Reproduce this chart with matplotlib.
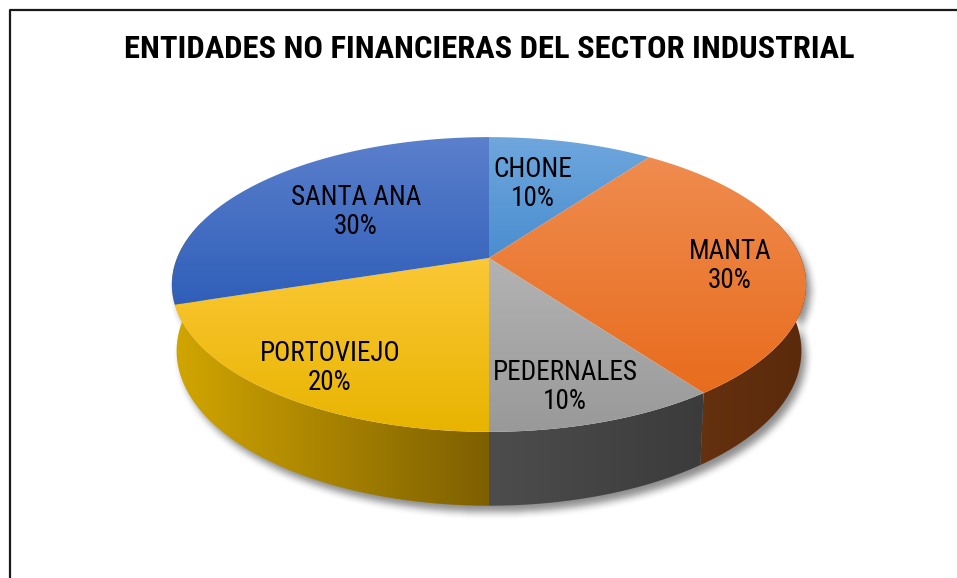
import numpy as np
import matplotlib.pyplot as plt
from matplotlib.colors import LinearSegmentedColormap
from matplotlib.patches import Polygon
from matplotlib.path import Path

# data
categories = ['CHONE', 'MANTA', 'PEDERNALES', 'PORTOVIEJO', 'SANTA ANA']
shares = [10, 30, 10, 20, 30]
pct_labels = ['10%', '30%', '10%', '20%', '30%']
chart_title = 'ENTIDADES NO FINANCIERAS DEL SECTOR INDUSTRIAL'

# look of each slice: top face (light, dark), side wall (left, right)
top_colors = [('#6fa7dd', '#4a8dd0'), ('#ef8c4f', '#e86c1d'),
              ('#b3b3b3', '#999999'), ('#fbc837', '#e8b400'),
              ('#5b80cc', '#2f5eb9')]
side_colors = [('#3f6fa0', '#2e5a88'), ('#65310f', '#5a2a0b'),
               ('#4d4d4d', '#3b3b3b'), ('#d2a600', '#7d5f00'),
               ('#2c4f92', '#223f78')]
label_xy = [(533, 184), (730, 266), (565, 387), (330, 368), (356, 212)]

W, H = 957, 578
FONT = 'Roboto Condensed'
# camera for the 3d look of the top face
cx, cy = 489, 258
F, D = 1544.0, 4.949
phi = np.radians(27.2)
# thickness of the disc (pixels at the sides) and its growth toward the front
wall_px, wall_k, wall_shrink = 65.0, 0.12, 0.985


def proj(x, y):
    depth = D + y * np.cos(phi)
    sx = cx + F * x / depth
    sy = cy - F * y * np.sin(phi) / depth
    return np.column_stack([sx, sy])


def arc(t1, t2, n=200):
    t = np.radians(np.linspace(t1, t2, n))
    return proj(np.cos(t), np.sin(t))


def arc_bottom(t1, t2, n=200):
    t = np.radians(np.linspace(t1, t2, n))
    p = proj(np.cos(t), np.sin(t))
    p[:, 0] = cx + (p[:, 0] - cx) * wall_shrink
    p[:, 1] += wall_px / (1 + wall_k * np.sin(t))
    return p


def gradient_fill(ax, poly, c1, c2, vertical=True, zorder=2):
    patch = Polygon(poly, closed=True, fill=False, edgecolor='none')
    ax.add_patch(patch)
    x0, y0 = poly.min(axis=0)
    x1, y1 = poly.max(axis=0)
    grad = np.linspace(0, 1, 256)
    grad = grad[:, None] if vertical else grad[None, :]
    cmap = LinearSegmentedColormap.from_list('g', [c1, c2])
    im = ax.imshow(grad, cmap=cmap, extent=(x0 - 1, x1 + 1, y1 + 1, y0 - 1),
                   origin='upper', aspect='auto', interpolation='bilinear',
                   zorder=zorder)
    im.set_clip_path(patch)


fig = plt.figure(figsize=(W / 100, H / 100), dpi=100)
ax = fig.add_axes([0, 0, 1, 1])
ax.set_xlim(0, W)
ax.set_ylim(H, 0)
ax.axis('off')

# slice angles, excel style: start at 12 o'clock, clockwise
fr = np.array(shares) / sum(shares)
ends = 90 - 360 * np.cumsum(fr)
starts = np.concatenate([[90], ends[:-1]])

# soft shadow under the pie
yy, xx = np.mgrid[0:H, 0:W]
outline = np.vstack([arc(165, 375), arc_bottom(375, 165)]) + [4, 6]
mask = Path(outline).contains_points(np.column_stack([xx.ravel(), yy.ravel()]))
mask = mask.reshape(H, W).astype(float)
k = np.ones(9) / 9
for _ in range(2):
    mask = np.apply_along_axis(lambda r: np.convolve(r, k, mode='same'), 1, mask)
    mask = np.apply_along_axis(lambda c: np.convolve(c, k, mode='same'), 0, mask)
shadow = np.zeros((H, W, 4))
shadow[..., 3] = mask * 0.45
ax.imshow(shadow, extent=(0, W, H, 0), origin='upper', aspect='auto', zorder=1)

# side walls, front part only
for i in range(len(shares)):
    if categories[i] == 'SANTA ANA':
        continue   # its wall sits behind the yellow one
    a, b = ends[i] % 360, starts[i] % 360
    if b <= a:
        b += 360
    lo, hi = max(a, 180), min(b, 375)
    if categories[i] == 'PORTOVIEJO':
        lo = 165
    if lo >= hi:
        continue
    poly = np.vstack([arc(lo, hi), arc_bottom(hi, lo)])
    gradient_fill(ax, poly, side_colors[i][0], side_colors[i][1],
                  vertical=False, zorder=3)

# top faces
centre = proj(np.array([0.0]), np.array([0.0]))
for i in range(len(shares)):
    poly = np.vstack([centre, arc(starts[i], ends[i])])
    gradient_fill(ax, poly, top_colors[i][0], top_colors[i][1], zorder=4)

for i, (x, y) in enumerate(label_xy):
    ax.text(x, y, categories[i] + '\n' + pct_labels[i], ha='center', va='center',
            fontsize=19.5, family=FONT, linespacing=1.08, zorder=6)

ax.text(489.5, 49, chart_title, ha='center', va='center', fontsize=23.4,
        family=FONT, fontweight='bold', zorder=6)

ax.plot([9.5, 9.5, W], [H, 10, 10], color='#1a1a1a', lw=1.6, zorder=7)

fig.savefig('out.png', dpi=100)
